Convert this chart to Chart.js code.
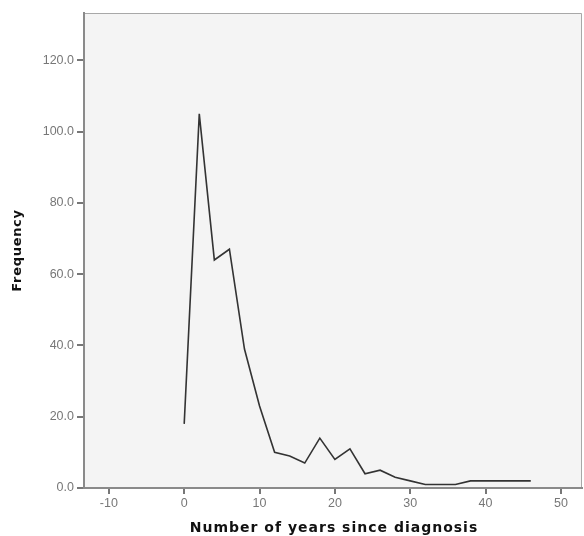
<!DOCTYPE html>
<html>
<head>
<meta charset="utf-8">
<script src="https://cdn.jsdelivr.net/npm/chart.js@4"></script>
<style>
  html, body { margin: 0; padding: 0; background: #fff; }
  #wrap { width: 584px; height: 536px; }
</style>
</head>
<body>
<div id="wrap"><canvas id="myChart" width="584" height="536"></canvas></div>
<script>
// years since diagnosis (class midpoints) and frequencies
var years = [0, 2, 4, 6, 8, 10, 12, 14, 16, 18, 20, 22, 24, 26, 28, 30, 32, 34, 36, 38, 40, 42, 44, 46];
var freq = [18, 105, 64, 67, 39, 23, 10, 9, 7, 14, 8, 11, 4, 5, 3, 2, 1, 1, 1, 2, 2, 2, 2, 2];
var xTicks = [-10, 0, 10, 20, 30, 40, 50];
var yTicks = [0, 20, 40, 60, 80, 100, 120];
var xTitle = 'Number of years since diagnosis';
var yTitle = 'Frequency';

var points = years.map((x, i) => ({ x: x, y: freq[i] }));

// grey plot background + thin frame on top/right
const plotBg = {
    id: 'plotBg',
    beforeDraw: (chart) => {
        const a = chart.chartArea;
        const ctx = chart.ctx;
        ctx.save();
        ctx.fillStyle = '#f4f4f4';
        ctx.fillRect(a.left, a.top, a.right - a.left, a.bottom - a.top);
        ctx.strokeStyle = '#a8a8a8';
        ctx.lineWidth = 1;
        ctx.beginPath();
        ctx.moveTo(a.left, a.top + 0.5);
        ctx.lineTo(a.right - 0.5, a.top + 0.5);
        ctx.lineTo(a.right - 0.5, a.bottom);
        ctx.stroke();
        ctx.restore();
    },
    // axis titles drawn by hand so they can get a bit of letter spacing
    afterDraw: (chart) => {
        const a = chart.chartArea;
        const ctx = chart.ctx;
        ctx.save();
        ctx.fillStyle = '#111';
        ctx.textAlign = 'center';
        ctx.textBaseline = 'middle';
        ctx.font = "bold 14px 'DejaVu Sans'";
        ctx.letterSpacing = '1px';
        ctx.fillText(xTitle, (a.left + a.right) / 2 + 1, chart.height - 8);
        ctx.font = "bold 13px 'DejaVu Sans'";
        ctx.letterSpacing = '0.7px';
        ctx.translate(18, (a.top + a.bottom) / 2);
        ctx.rotate(-Math.PI / 2);
        ctx.fillText(yTitle, 0, 0);
        ctx.restore();
    }
};

var myChart = new Chart(document.getElementById('myChart'), {
    type: 'line',
    data: {
        datasets: [{
            data: points,
            borderColor: '#333333',
            borderWidth: 1.6,
            pointRadius: 0,
            tension: 0,
            fill: false
        }]
    },
    options: {
        responsive: false,
        animation: false,
        plugins: {
            legend: { display: false },
            tooltip: { enabled: false }
        },
        layout: {
            padding: { top: 13, right: 2, left: 0, bottom: 0 }
        },
        scales: {
            x: {
                type: 'linear',
                min: -13.3,
                max: 52.8,
                afterBuildTicks: (s) => { s.ticks = xTicks.map(v => ({ value: v })); },
                afterFit: (s) => { s.height = 48; },
                ticks: {
                    color: '#777',
                    font: { family: 'Liberation Sans', size: 12.5 },
                    padding: 2,
                    maxRotation: 0
                },
                grid: { drawOnChartArea: false, drawTicks: true, tickLength: 6, color: '#777', lineWidth: 2 },
                border: { display: true, color: '#8a8a8a', width: 2 }
            },
            y: {
                min: 0,
                max: 133.3,
                afterBuildTicks: (s) => { s.ticks = yTicks.map(v => ({ value: v })); },
                afterFit: (s) => { s.width = 84; },
                ticks: {
                    color: '#777',
                    font: { family: 'Liberation Sans', size: 12.5 },
                    padding: 3,
                    callback: (v) => v.toFixed(1)
                },
                grid: { drawOnChartArea: false, drawTicks: true, tickLength: 7, color: '#777', lineWidth: 2 },
                border: { display: true, color: '#8a8a8a', width: 2 }
            }
        }
    },
    plugins: [plotBg]
});
</script>
</body>
</html>
